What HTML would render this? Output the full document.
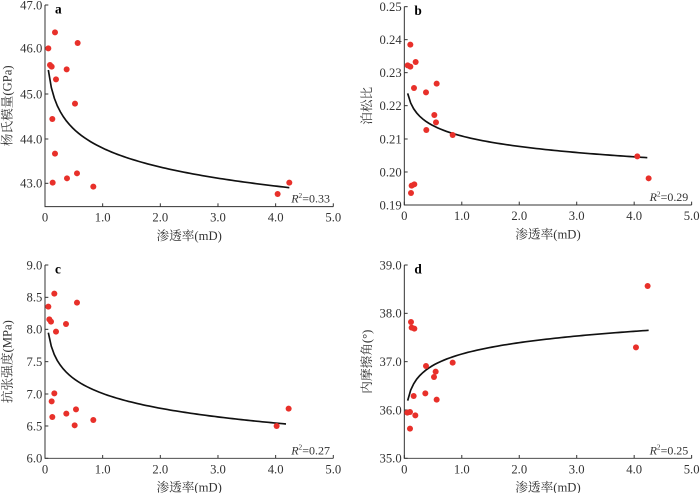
<!DOCTYPE html>
<html><head><meta charset="utf-8"><style>body{margin:0;background:#fff}svg{display:block}</style></head>
<body>
<svg id="s" width="700" height="493" viewBox="0 0 700 493" xmlns="http://www.w3.org/2000/svg" font-family="'Liberation Serif','Noto Serif CJK SC',serif"></svg>
<script>
const P=[
{ox:0,oy:0,L:135,T:15,B:620,R:1000,yl:['47.0','46.0','45.0','44.0','43.0'],yt:[15,145,282,417,550],lab:'a',title:'杨氏模量(GPa)',r2:'0.33',
 pts:[[145,145],[150,195],[155,200],[165,97],[168,238],[200,208],[233,129],[225,311],[157,357],[165,461],[158,548],[201,535],[231,520],[280,560],[833,582],[868,548]],c:[[145,210],[868,563]]},
{ox:350,oy:0,L:163,T:20,B:615,R:1025,yl:['0.25','0.24','0.23','0.22','0.21','0.20','0.19'],yt:[20,119,218,317,417,516,615],lab:'b',title:'泊松比',r2:'0.29',
 pts:[[181,134],[173,196],[181,200],[197,186],[192,264],[260,251],[228,277],[253,345],[258,367],[229,390],[308,405],[193,553],[185,557],[183,579],[862,469],[896,535]],c:[[173,280],[892,473]]},
{ox:0,oy:250,L:135,T:45,B:625,R:1000,yl:['9.0','8.5','8.0','7.5','7.0','6.5','6.0'],yt:[45,142,238,335,432,528,625],lab:'c',title:'抗张强度(MPa)',r2:'0.27',
 pts:[[145,170],[148,208],[153,215],[163,131],[168,245],[198,222],[231,158],[163,430],[155,454],[157,501],[199,491],[228,478],[224,526],[280,510],[830,528],[866,476]],c:[[145,248],[858,522]]},
{ox:350,oy:250,L:163,T:45,B:625,R:1025,yl:['39.0','38.0','37.0','36.0','35.0'],yt:[45,190,335,480,625],lab:'d',title:'内摩擦角(°)',r2:'0.25',
 pts:[[183,216],[185,233],[193,236],[191,438],[228,348],[226,430],[257,365],[252,381],[260,449],[308,338],[172,488],[180,486],[196,496],[180,536],[858,292],[893,108]],c:[[173,452],[896,241]]}
];
let h='';
for(const p of P){
 h+=`<g transform="translate(${p.ox},${p.oy}) scale(0.3333)" fill="#333">`;
 h+=`<path d="M${p.L} ${p.T}V${p.B}H${p.R}" fill="none" stroke="#333" stroke-width="3"/>`;
 p.yt.forEach((y,i)=>{h+=`<line x1="${p.L}" x2="${p.L+10}" y1="${y}" y2="${y}" stroke="#333" stroke-width="3"/><text x="${p.L-8}" y="${y+13}" font-size="38" text-anchor="end">${p.yl[i]}</text>`;});
 for(let i=0;i<=5;i++){const x=p.L+(p.R-p.L)*i/5;h+=`<line x1="${x}" x2="${x}" y1="${p.B}" y2="${p.B-10}" stroke="#333" stroke-width="3"/><text x="${x}" y="${p.B+45}" font-size="38" text-anchor="middle">${i==0?'0':i+'.0'}</text>`;}
 h+=`<text x="${(p.L+p.R)/2}" y="${p.B+100}" font-size="38" text-anchor="middle">渗透率(mD)</text>`;
 const cy=(p.T+p.B)/2;h+=`<text transform="translate(${p.L-100},${cy}) rotate(-90)" font-size="38" text-anchor="middle">${p.title}</text>`;
 h+=`<text x="${p.L+30}" y="${p.T+25}" font-size="40" font-weight="bold" fill="#000">${p.lab}</text>`;
 h+=`<text x="${p.R-10}" y="${p.B-12}" font-size="36" text-anchor="end"><tspan font-style="italic">R</tspan><tspan font-size="22" dy="-14">2</tspan><tspan dy="14">=${p.r2}</tspan></text>`;
 const X=px=>(px-p.L)/(p.R-p.L)*5;const [a,b]=p.c;const x1=X(a[0]),x2=X(b[0]);const B=(b[1]-a[1])/Math.log(x2/x1);
 let d='';for(let i=0;i<=80;i++){const px=a[0]+(b[0]-a[0])*i/80;const y=a[1]+B*Math.log(X(px)/x1);d+=(i?'L':'M')+px.toFixed(1)+' '+y.toFixed(1);}
 h+=`<path d="${d}" fill="none" stroke="#111" stroke-width="5"/>`;
 for(const q of p.pts)h+=`<circle cx="${q[0]}" cy="${q[1]}" r="9" fill="#e8302a"/>`;
 h+='</g>';
}
document.getElementById('s').innerHTML=h;
</script>
</body></html>
